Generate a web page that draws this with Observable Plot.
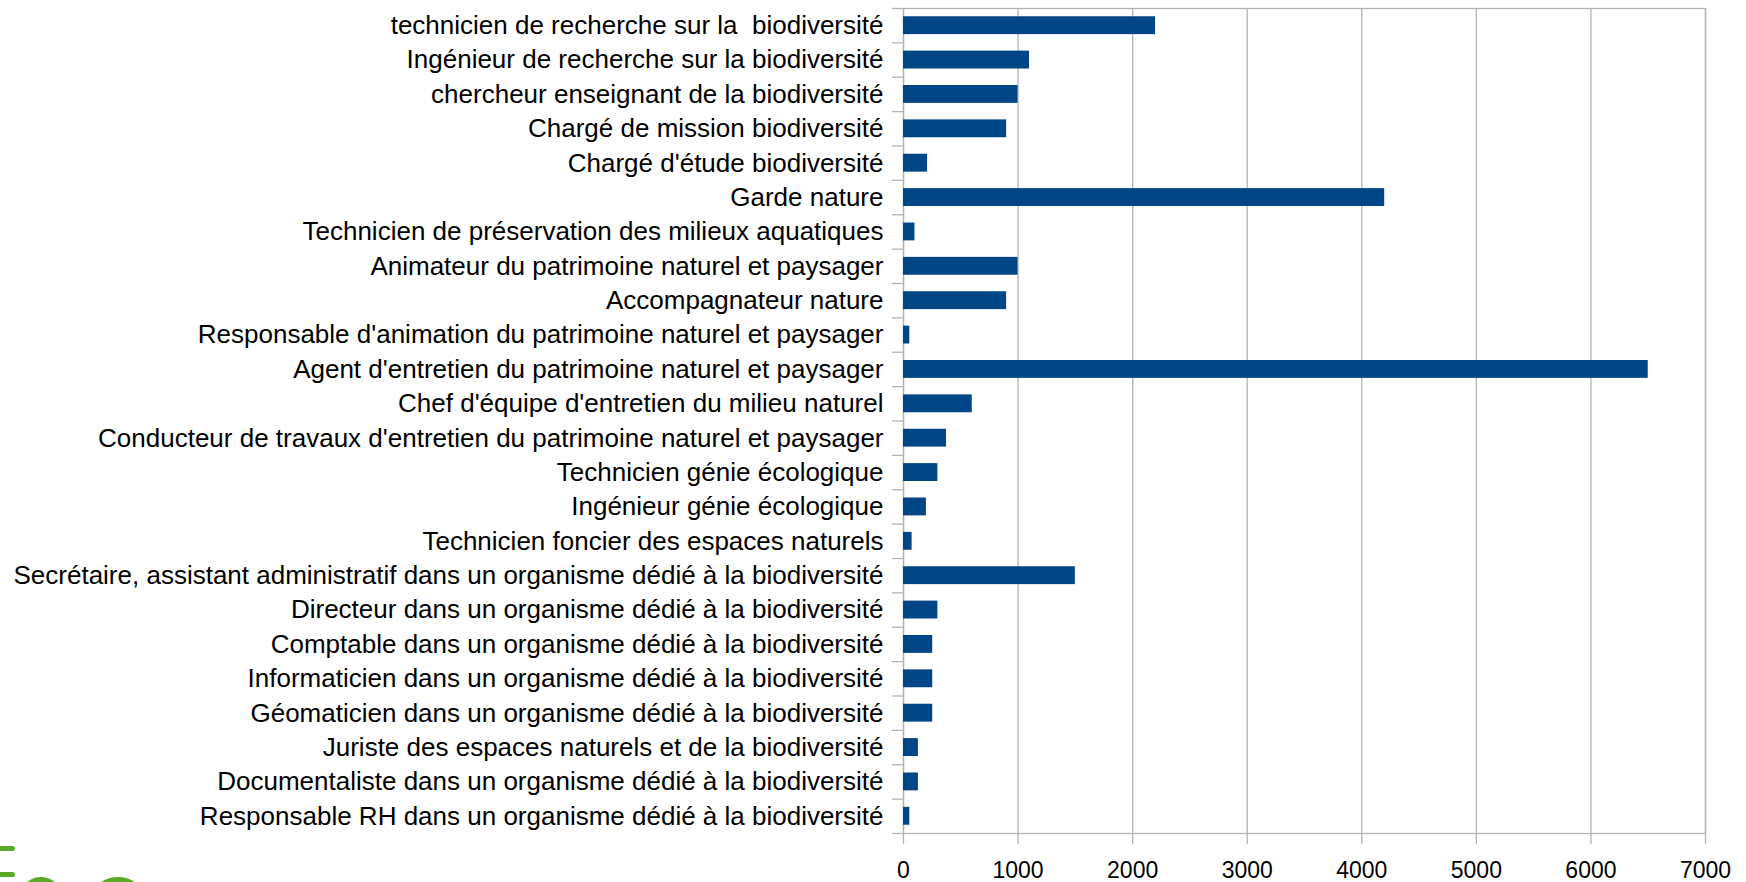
<!DOCTYPE html>
<html><head><meta charset="utf-8">
<script src="https://cdn.jsdelivr.net/npm/d3@7"></script>
<script src="https://cdn.jsdelivr.net/npm/@observablehq/plot@0.6"></script>
<style>
body{margin:0;background:#fff;overflow:hidden}
#chart{position:relative;width:1746px;height:882px;overflow:hidden}
svg text{white-space:pre}
.dash{position:absolute;left:-4px;width:19px;height:5px;background:#5aaa28;border-radius:3px}
.ring{position:absolute;border:6px solid #5aaa28;border-radius:50%}
</style></head><body><div id="chart"></div>
<script>
const categories = [
  "technicien de recherche sur la  biodiversité",
  "Ingénieur de recherche sur la biodiversité",
  "chercheur enseignant de la biodiversité",
  "Chargé de mission biodiversité",
  "Chargé d'étude biodiversité",
  "Garde nature",
  "Technicien de préservation des milieux aquatiques",
  "Animateur du patrimoine naturel et paysager",
  "Accompagnateur nature",
  "Responsable d'animation du patrimoine naturel et paysager",
  "Agent d'entretien du patrimoine naturel et paysager",
  "Chef d'équipe d'entretien du milieu naturel",
  "Conducteur de travaux d'entretien du patrimoine naturel et paysager",
  "Technicien génie écologique",
  "Ingénieur génie écologique",
  "Technicien foncier des espaces naturels",
  "Secrétaire, assistant administratif dans un organisme dédié à la biodiversité",
  "Directeur dans un organisme dédié à la biodiversité",
  "Comptable dans un organisme dédié à la biodiversité",
  "Informaticien dans un organisme dédié à la biodiversité",
  "Géomaticien dans un organisme dédié à la biodiversité",
  "Juriste des espaces naturels et de la biodiversité",
  "Documentaliste dans un organisme dédié à la biodiversité",
  "Responsable RH dans un organisme dédié à la biodiversité"
];
const values = [2200, 1100, 1000, 900, 210, 4200, 100, 1000, 900, 55, 6500, 600, 375, 300, 200, 75, 1500, 300, 255, 255, 255, 130, 130, 55];
const xTicks = [0, 1000, 2000, 3000, 4000, 5000, 6000, 7000];

const data = categories.map((c, i) => ({metier: c, effectif: values[i]}));
const W = 1746, H = 882, mt = 8, mb = 49, ml = 903, mr = 41;
const step = (H - mt - mb) / categories.length;
const grey = "#b3b3b3";

const chart = Plot.plot({
  width: W, height: H,
  marginTop: mt, marginBottom: mb, marginLeft: ml, marginRight: mr,
  style: {fontFamily: "'Liberation Sans', Arial, sans-serif", fontSize: "23px", color: "#000", background: "#fff", overflow: "visible"},
  x: {domain: [0, 7000], ticks: xTicks},
  y: {domain: categories, paddingInner: 0.48, paddingOuter: 0.24, round: false},
  marks: [
    Plot.gridX(xTicks, {stroke: grey, strokeOpacity: 1, strokeWidth: 1.3}),
    Plot.frame({stroke: grey, strokeWidth: 1.3}),
    Plot.barX(data, {x: "effectif", y: "metier", fill: "#004586"}),
    Plot.axisX(xTicks, {tickSize: 11, tickPadding: 17, stroke: grey, strokeWidth: 1.3, fill: "#000", label: null, fontSize: 23, tickFormat: d => String(d)}),
    Plot.axisY({tickSize: 0, tickPadding: 20, fill: "#000", label: null, fontSize: 26}),
    Plot.axisY({tickSize: 11, dy: -step / 2, stroke: grey, strokeWidth: 1.3, fill: "none", label: null}),
    Plot.axisY([categories[categories.length - 1]], {tickSize: 11, dy: step / 2, stroke: grey, strokeWidth: 1.3, fill: "none", label: null})
  ]
});
const host = document.getElementById("chart");
host.appendChild(chart);
for (const top of [846, 872]) {
  const d = document.createElement("div"); d.className = "dash"; d.style.top = top + "px"; host.appendChild(d);
}
for (const [left, w] of [[20, 30], [88, 48]]) {
  const r = document.createElement("div"); r.className = "ring";
  r.style.left = left + "px"; r.style.top = "877px"; r.style.width = w + "px"; r.style.height = w + "px";
  host.appendChild(r);
}
</script></body></html>
